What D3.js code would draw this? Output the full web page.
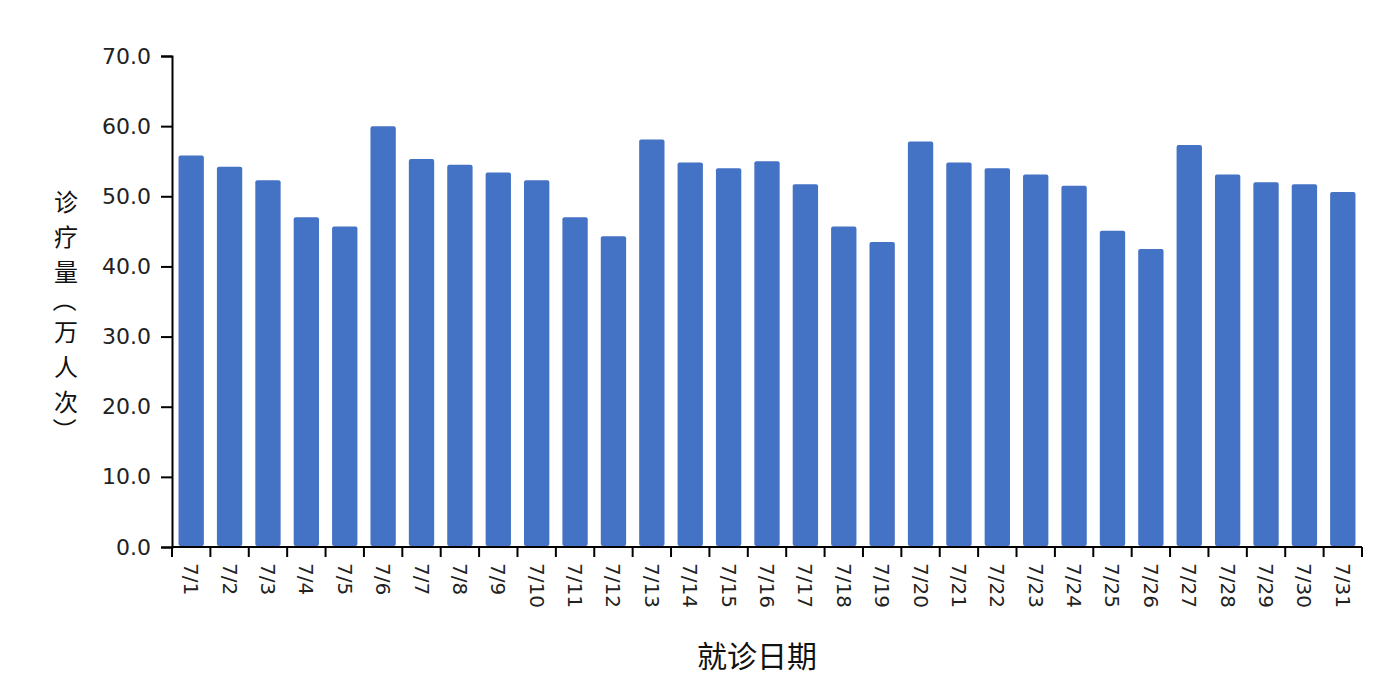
<!DOCTYPE html>
<html>
<head>
<meta charset="utf-8">
<script src="https://cdn.jsdelivr.net/npm/d3@7"></script>
<style>
  body { margin: 0; background: #fff; }
  .tick text { font-family: "DejaVu Sans", sans-serif; fill: #222; }
  .cn { font-family: "Noto Sans CJK SC", sans-serif; fill: #111; }
</style>
</head>
<body>
<svg width="1378" height="690"></svg>
<script>
// days of July
var dates = ['7/1','7/2','7/3','7/4','7/5','7/6','7/7','7/8','7/9','7/10',
    '7/11','7/12','7/13','7/14','7/15','7/16','7/17','7/18','7/19','7/20',
    '7/21','7/22','7/23','7/24','7/25','7/26','7/27','7/28','7/29','7/30','7/31'];

// visits, 10k person-times
var visits = [55.8, 54.2, 52.3, 47.0, 45.7, 60.0, 55.3, 54.5, 53.4, 52.3,
    47.0, 44.3, 58.1, 54.8, 54.0, 55.0, 51.7, 45.7, 43.5, 57.8,
    54.8, 54.0, 53.1, 51.5, 45.1, 42.5, 57.3, 53.1, 52.0, 51.7, 50.6];

var yTicks = [0, 10, 20, 30, 40, 50, 60, 70];

var yTitle = '诊疗量（万人次）';
var xTitle = '就诊日期';

var svg = d3.select('svg');
var padding = {t: 56, r: 16, b: 143, l: 172};
var svgWidth = +svg.attr('width');
var svgHeight = +svg.attr('height');
var chartWidth = svgWidth - padding.l - padding.r;
var chartHeight = svgHeight - padding.t - padding.b;

var chartG = svg.append('g')
    .attr('transform', 'translate(' + [padding.l, padding.t] + ')');

var pInner = 0.34;
var xScale = d3.scaleBand()
    .domain(dates)
    .range([0, chartWidth])
    .paddingInner(pInner)
    .paddingOuter(pInner / 2);

var yScale = d3.scaleLinear()
    .domain([0, 70])
    .range([chartHeight, 0]);

// bars
chartG.selectAll('.bar')
    .data(dates)
    .enter()
    .append('rect')
    .attr('class', 'bar')
    .attr('x', function(d) { return xScale(d); })
    .attr('y', function(d, i) { return yScale(visits[i]); })
    .attr('width', xScale.bandwidth())
    .attr('height', function(d, i) { return chartHeight - yScale(visits[i]) - 1; })
    .attr('rx', 2)
    .attr('fill', '#4472C4');

// y axis
var yAxis = d3.axisLeft(yScale)
    .tickValues(yTicks)
    .tickSize(11)
    .tickPadding(10)
    .tickFormat(d3.format('.1f'));

var yG = chartG.append('g')
    .attr('class', 'y axis')
    .call(yAxis);
yG.selectAll('.tick text').style('font-size', '22px');
yG.select('.domain').attr('stroke-width', 2);
yG.selectAll('.tick line').attr('stroke-width', 2);

// x axis: labels at band centers, ticks at band boundaries
var xAxis = d3.axisBottom(xScale).tickSize(0).tickPadding(0);
var xG = chartG.append('g')
    .attr('class', 'x axis')
    .attr('transform', 'translate(0,' + chartHeight + ')')
    .call(xAxis);
xG.select('.domain').remove();
xG.selectAll('.tick text')
    .style('font-size', '20px')
    .attr('text-anchor', 'start')
    .attr('transform', 'translate(0,16) rotate(90)')
    .attr('x', 0)
    .attr('y', 0)
    .attr('dy', '0.35em');

var half = (xScale.step() - xScale.bandwidth()) / 2;
var bounds = dates.map(function(d) { return xScale(d) - half; });
bounds.push(chartWidth);
xG.selectAll('.bound')
    .data(bounds)
    .enter()
    .append('line')
    .attr('class', 'bound')
    .attr('x1', function(d) { return d; })
    .attr('x2', function(d) { return d; })
    .attr('y1', 0)
    .attr('y2', 10)
    .attr('stroke', '#000')
    .attr('stroke-width', 2);
xG.append('line')
    .attr('x1', 0)
    .attr('x2', chartWidth)
    .attr('stroke', '#000')
    .attr('stroke-width', 2);

// axis titles
svg.append('text')
    .attr('class', 'cn')
    .attr('x', 757)
    .attr('y', 667)
    .attr('text-anchor', 'middle')
    .style('font-size', '30px')
    .text(xTitle);

// vertical title, one glyph per line, brackets turned sideways
var isBracket = function(c) { return c === '（' || c === '）'; };
var glyphs = yTitle.split('');
var titleX = 66;
var titleYs = [];
glyphs.forEach(function(c, i) {
    if (i === 0) { titleYs.push(200); return; }
    var gap = (isBracket(c) || isBracket(glyphs[i - 1])) ? 30 : 35;
    titleYs.push(titleYs[i - 1] + gap);
});

svg.selectAll('.ytitle')
    .data(glyphs)
    .enter()
    .append('text')
    .attr('class', 'cn ytitle')
    .style('font-size', '24px')
    .attr('x', titleX)
    .attr('y', function(d, i) { return titleYs[i]; })
    .attr('text-anchor', 'middle')
    .attr('dominant-baseline', 'central')
    .attr('transform', function(d, i) {
        return isBracket(d) ? 'rotate(90,' + titleX + ',' + titleYs[i] + ')' : null;
    })
    .text(function(d) { return d; });
</script>
</body>
</html>
